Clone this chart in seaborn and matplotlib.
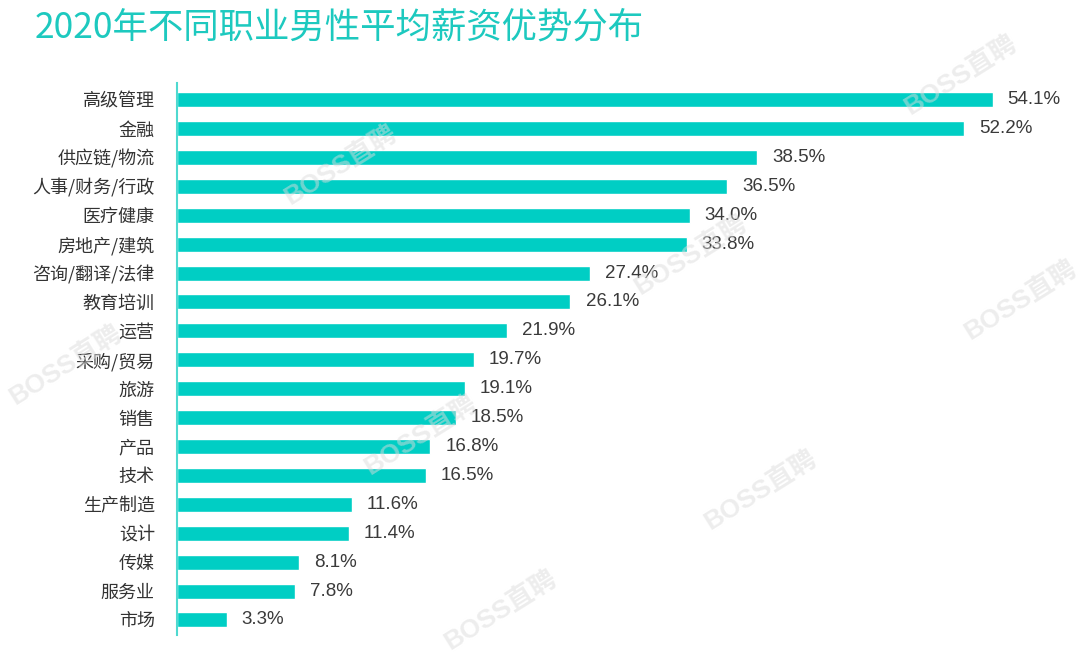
import seaborn as sns
import pandas as pd
import matplotlib.pyplot as plt

# values
jobs = ['高级管理', '金融', '供应链/物流', '人事/财务/行政', '医疗健康', '房地产/建筑',
        '咨询/翻译/法律', '教育培训', '运营', '采购/贸易', '旅游', '销售', '产品',
        '技术', '生产制造', '设计', '传媒', '服务业', '市场']
advantage = [54.1, 52.2, 38.5, 36.5, 34.0, 33.8, 27.4, 26.1, 21.9, 19.7, 19.1,
             18.5, 16.8, 16.5, 11.6, 11.4, 8.1, 7.8, 3.3]

df = pd.DataFrame({'job': jobs, 'advantage': advantage})

sns.set_style('white')
plt.rcParams['font.family'] = ['Liberation Sans', 'Noto Sans CJK SC', 'DejaVu Sans']

teal = '#00CEC4'

fig = plt.figure(figsize=(10.8, 6.53), dpi=100)
ax = fig.add_axes([177 / 1080, 0.0276, 903 / 1080, 0.846])

sns.barplot(data=df, x='advantage', y='job', color=teal, width=0.52,
            saturation=1, ax=ax)

ax.set_xlim(0, 59.9)
ax.set_ylim(18.52, -0.59)
ax.set_xlabel('')
ax.set_ylabel('')
ax.set_xticks([])
ax.tick_params(axis='y', length=0, pad=16, labelsize=13, labelcolor='#333333')
for lbl in ax.get_yticklabels():
    lbl.set_family(['Noto Sans CJK SC', 'DejaVu Sans'])

for side in ['top', 'right', 'bottom']:
    ax.spines[side].set_visible(False)
ax.spines['left'].set_color('#4fd9d0')
ax.spines['left'].set_linewidth(1.5)

# value labels
for i, v in enumerate(advantage):
    ax.text(v + 1.0, i, f'{v:.1f}%', va='center', ha='left',
            fontsize=13.5, color='#3a3a3a', family=['Liberation Sans', 'DejaVu Sans'])

# title
fig.text(35 / 1080, 1 - 28 / 653, '2020年不同职业男性平均薪资优势分布', ha='left',
         va='center', fontsize=25.5, color='#1DC9BF',
         family=['Noto Sans CJK SC', 'DejaVu Sans'])

# faint watermarks
marks = [(960, 75), (340, 165), (690, 255), (1020, 300), (65, 365),
         (420, 435), (760, 490), (500, 610)]
for x, y in marks:
    fig.text(x / 1080, 1 - y / 653, 'BOSS直聘', rotation=32, ha='center', va='center',
             fontsize=19, fontweight='bold', color='#dcdcdc', alpha=0.5,
             family=['Liberation Sans', 'Noto Sans CJK SC'])

fig.savefig('out.png', dpi=100)
